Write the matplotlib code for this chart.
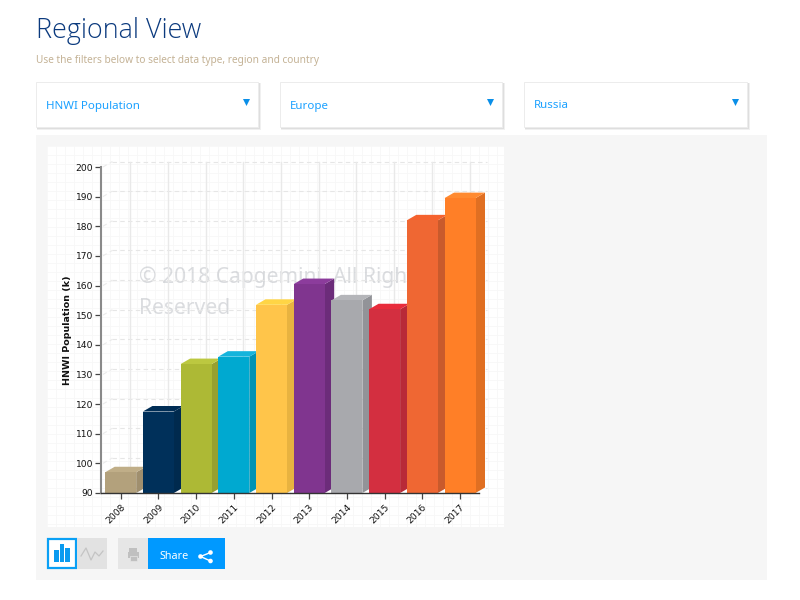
import matplotlib
matplotlib.use("Agg")
import matplotlib.pyplot as plt
from matplotlib.patches import Polygon, Rectangle, Circle

years = ["2008", "2009", "2010", "2011", "2012", "2013", "2014", "2015", "2016", "2017"]
values = [97, 117.5, 133.5, 136, 153.5, 160.5, 155, 152, 182, 189.5]
front = ["#b3a17c", "#00305a", "#adb935", "#00a9d0", "#ffc54a", "#80358f", "#a8a9ad", "#d32f40", "#ef6733", "#ff7f27"]
side = ["#a08f6e", "#002a4e", "#97a030", "#0093b4", "#e8b340", "#6c2c7a", "#929398", "#b82a38", "#c95a2c", "#e06f22"]
top = ["#c0ae88", "#002d55", "#bcc840", "#14b4dc", "#ffd545", "#8c3c9c", "#b4b5b9", "#e82c3c", "#f5622e", "#ff8a30"]
yticks = [90, 100, 110, 120, 130, 140, 150, 160, 170, 180, 190, 200]
dropdowns = ["HNWI Population", "Europe", "Russia"]

W, H = 800, 600
fig = plt.figure(figsize=(8, 6), dpi=100, facecolor="white")
ui = fig.add_axes([0, 0, 1, 1])
ui.set_xlim(0, W)
ui.set_ylim(H, 0)
ui.axis("off")

SANS = "Noto Sans"
ui.text(36, 38, "Regional View", fontsize=19.4, color="#0b3a7e", family="Open Sans", fontweight="light", va="baseline")
ui.text(36, 62.5, "Use the filters below to select data type, region and country",
        fontsize=7.3, color="#c4b295", family=SANS, va="baseline")

# drop-downs
for (x0, x1), label in zip([(36, 258), (280, 502), (524, 747)], dropdowns):
    for grow, shade in [(2.5, "#f0f0f0"), (1.5, "#dedede")]:
        ui.add_patch(Rectangle((x0 + 1, 83), x1 - x0 - 1 + grow, 44 + grow, fc=shade, ec="none"))
    ui.add_patch(Rectangle((x0, 82), x1 - x0, 45, fc="white", ec="#ececec", lw=0.7))
    ui.text(x0 + 10, 108.5, label, fontsize=8.3, color="#1ba1ff", family=SANS, va="baseline")
    ui.add_patch(Polygon([(x1 - 15, 99), (x1 - 8, 99), (x1 - 11.5, 106)], fc="#0a8fe8", ec="none"))

# panel and chart card
ui.add_patch(Rectangle((36, 135), 731, 445, fc="#f6f6f6", ec="none"))
ui.add_patch(Rectangle((47, 146), 457, 381, fc="white", ec="none"))
for gx in range(47, 505, 9):
    ui.plot([gx, gx], [146, 527], color="#f7f7f7", lw=0.6)
for gy in range(146, 528, 9):
    ui.plot([47, 504], [gy, gy], color="#f7f7f7", lw=0.6)

# watermark, behind the bars
ui.text(139, 277, "© 2018 Capgemini. All Rights", fontsize=15.2, color="#8a8f99", alpha=0.3, family=SANS, va="center")
ui.text(139, 309, "Reserved", fontsize=15.2, color="#8a8f99", alpha=0.3, family=SANS, va="center")

# buttons
ui.add_patch(Rectangle((48, 539), 28, 29, fc="white", ec="#0aa0f5", lw=1.6))
for bx, bt in zip([54, 59.5, 65], [550, 544, 548]):
    ui.add_patch(Rectangle((bx, bt), 4.7, 562 - bt, fc="#0a9bf0", ec="none"))
ui.add_patch(Rectangle((77, 538), 30, 31, fc="#e2e2e2", ec="none"))
ui.plot([81, 86, 91, 95, 99, 103], [556, 548, 560, 552, 556, 551], color="#c4c4c4", lw=0.9)
ui.add_patch(Rectangle((118, 538), 30, 31, fc="#e6e6e6", ec="none"))
ui.add_patch(Rectangle((129, 548), 8, 4, fc="#c0c0c0", ec="none"))
ui.add_patch(Rectangle((127.5, 552), 11, 6, fc="#c0c0c0", ec="none"))
ui.add_patch(Rectangle((129.5, 556), 7, 4.5, fc="#c0c0c0", ec="#e6e6e6", lw=0.5))
ui.add_patch(Rectangle((148, 538), 77, 31, fc="#0099ff", ec="none"))
ui.text(159, 559, "Share", fontsize=7.8, color="white", family=SANS, va="baseline")
ui.plot([210.5, 200.5, 210.5], [552.5, 556.5, 561], color="white", lw=1.0)
for cx, cy in [(210.5, 552.5), (200.5, 556.5), (210.5, 561)]:
    ui.add_patch(Circle((cx, cy), 2.3, fc="white", ec="none"))

# chart
L, R, T, B = 101, 479, 167, 493
ax = fig.add_axes([L / W, 1 - B / H, (R - L) / W, (B - T) / H])
ax.patch.set_alpha(0)
step = 37.7
xmin = (L - 120.7) / step
xmax = (R - 120.7) / step
ax.set_xlim(xmin, xmax)
ax.set_ylim(90, 200)
dx = 9.5 / step
dy = 5.5 / ((B - T) / 110)
hw = 31 / step / 2

for v in yticks:
    ax.plot([xmin + 0.05, xmin + 0.05 + dx], [v, v + dy], color="#ebebeb", lw=0.8, ls=(0, (4, 3)), clip_on=False, zorder=1)
    ax.plot([xmin + 0.05 + dx, 9 + hw + dx + 0.05], [v + dy, v + dy], color="#e6e6e6", lw=0.8,
            ls=(0, (4, 3)), clip_on=False, zorder=1)
for i in range(len(years)):
    ax.plot([i + dx, i + dx], [90 + dy, 200 + dy], color="#e9e9e9", lw=1.0, clip_on=False, zorder=1)

for i, v in enumerate(values):
    x0, x1 = i - hw, i + hw
    ax.add_patch(Polygon([(x1, 90), (x1 + dx, 90 + dy), (x1 + dx, v + dy), (x1, v)], fc=side[i], ec="none", clip_on=False, zorder=2 + i))
    ax.add_patch(Polygon([(x0, v), (x1, v), (x1 + dx, v + dy), (x0 + dx, v + dy)], fc=top[i], ec="none", clip_on=False, zorder=2 + i))
    ax.add_patch(Rectangle((x0, 90), x1 - x0, v - 90, fc=front[i], ec="none", clip_on=False, zorder=2 + i))

ax.set_xticks(range(len(years)))
ax.set_xticklabels(years, rotation=45, ha="right", rotation_mode="anchor", fontsize=6.6, color="#111111")
ax.set_yticks(yticks)
ax.tick_params(axis="y", labelsize=6.6, length=4, width=0.9, color="#444444", labelcolor="#111111", pad=1.5)
ax.tick_params(axis="x", length=4, width=0.9, color="#444444", pad=3)
for s in ("top", "right"):
    ax.spines[s].set_visible(False)
ax.spines["left"].set_color("#8a8a8a")
ax.spines["left"].set_linewidth(1.5)
ax.spines["bottom"].set_color("#333333")
ax.spines["bottom"].set_linewidth(1.0)
for s in ax.spines.values():
    s.set_zorder(20)
ax.set_ylabel("HNWI Population (k)", fontsize=6.8, fontweight="bold", color="#111111", labelpad=3)

fig.savefig("out.png", dpi=100)
